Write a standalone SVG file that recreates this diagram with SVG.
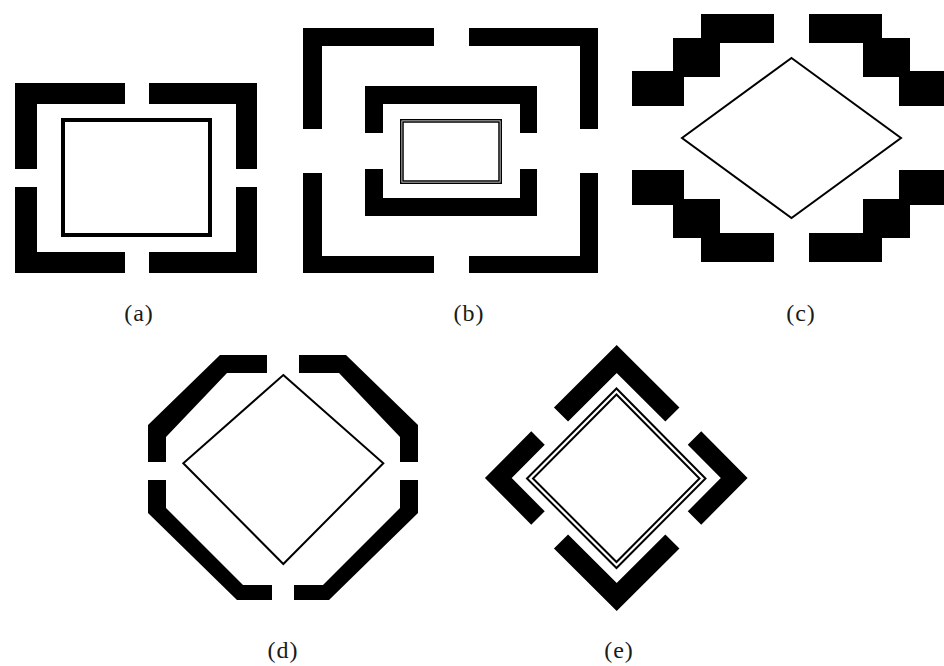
<svg xmlns="http://www.w3.org/2000/svg" width="944" height="666" viewBox="0 0 944 666">
<style>
.blk{fill:#000;stroke:none}
.thin{fill:none;stroke:#000;stroke-width:2;stroke-linejoin:miter}
.chev{fill:none;stroke:#000;stroke-linecap:butt;stroke-linejoin:miter;stroke-miterlimit:10}
.lbl{font-family:"Liberation Serif","Times New Roman",serif;font-size:24px;fill:#1a1a1a;text-anchor:middle;letter-spacing:1px}
</style>
<rect width="944" height="666" fill="#fff"/>

<g id="fig-a">
  <path class="blk" d="M15,83H125V104H37V169H15Z"/>
  <path class="blk" d="M257,83H149V104H236V169H257Z"/>
  <path class="blk" d="M15,273H125V252H37V187H15Z"/>
  <path class="blk" d="M257,273H149V252H236V187H257Z"/>
  <rect x="63" y="120" width="147" height="115" fill="none" stroke="#000" stroke-width="4"/>
  <text class="lbl" x="139" y="321">(a)</text>
</g>

<g id="fig-b">
  <path class="blk" d="M303,28H434V46H322V129H303Z"/>
  <path class="blk" d="M598,28H469V46H580V129H598Z"/>
  <path class="blk" d="M303,273H434V256H322V173H303Z"/>
  <path class="blk" d="M598,273H469V256H580V173H598Z"/>
  <path class="blk" d="M365,133V86H537V133H520V104H383V133Z"/>
  <path class="blk" d="M365,169V216H537V169H520V198H383V169Z"/>
  <rect x="400.75" y="119.75" width="100.5" height="63.5" fill="none" stroke="#000" stroke-width="1.5"/>
  <rect x="403" y="122" width="96" height="59" fill="none" stroke="#000" stroke-width="1.5"/>
  <text class="lbl" x="469" y="321">(b)</text>
</g>

<g id="fig-c">
  <path class="blk" d="M701,14H774V43H720V77H684V106H632V71H673V38H701Z"/>
  <path class="blk" d="M882,14H809V43H863V77H899V106H951V71H910V38H882Z"/>
  <path class="blk" d="M701,262H774V233H720V199H684V170H632V205H673V238H701Z"/>
  <path class="blk" d="M882,262H809V233H863V199H899V170H951V205H910V238H882Z"/>
  <polygon class="thin" points="791.5,58 901,138 791.5,218 682,138"/>
  <text class="lbl" x="801" y="321" letter-spacing="3">(c)</text>
</g>

<g id="fig-d">
  <path class="blk" d="M267,355H220L148,425V462H166V437L227,373H267Z"/>
  <path class="blk" d="M299,355H346L418,425V462H400V437L339,373H299Z"/>
  <path class="blk" d="M148,480H166V508L243,585H272V600H237L148,513Z"/>
  <path class="blk" d="M418,480H400V508L323,585H294V600H329L418,513Z"/>
  <polygon class="thin" points="283.3,375 383.3,463.3 283.3,564 183.3,463.3"/>
  <text class="lbl" x="283" y="658">(d)</text>
</g>

<g id="fig-e">
  <polyline class="chev" stroke-width="20" points="561,414.5 616.7,359 672.4,414.5"/>
  <polyline class="chev" stroke-width="20" points="561,541.5 616.7,597 672.4,541.5"/>
  <polyline class="chev" stroke-width="19" points="538,438 498.3,478 538,518"/>
  <polyline class="chev" stroke-width="19" points="694.5,438 734.2,478 694.5,518"/>
  <polygon class="thin" stroke-width="1.8" points="616.5,388.5 705.5,478.5 616.5,568 527,478.5"/>
  <polygon class="thin" stroke-width="1.8" points="616.5,394.5 699.5,478.5 616.5,562 533,478.5"/>
  <text class="lbl" x="619" y="658">(e)</text>
</g>
</svg>
